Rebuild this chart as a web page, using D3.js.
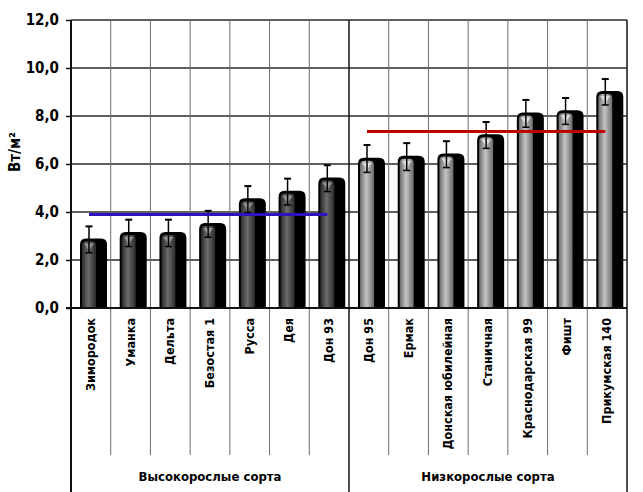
<!DOCTYPE html>
<html><head><meta charset="utf-8">
<script src="https://cdn.jsdelivr.net/npm/d3@7/dist/d3.min.js"></script>
<style>
html,body{margin:0;padding:0;background:#fff;}
text{font-family:"Liberation Sans Narrow","DejaVu Sans Condensed","Liberation Sans",Arial,sans-serif;font-weight:bold;fill:#000;}
</style></head>
<body>
<svg id="chart" width="643" height="492"></svg>
<script>
const categories = ["Зимородок","Уманка","Дельта","Безостая 1","Русса","Дея","Дон 93",
  "Дон 95","Ермак","Донская юбилейная","Станичная","Краснодарская 99","Фишт","Прикумская 140"];
const values = [2.85, 3.12, 3.12, 3.5, 4.53, 4.84, 5.4, 6.22, 6.3, 6.4, 7.2, 8.1, 8.2, 9.0];
const errors = [0.55, 0.56, 0.56, 0.55, 0.55, 0.55, 0.55, 0.57, 0.57, 0.55, 0.55, 0.57, 0.55, 0.54];
const groupNames = ["Высокорослые сорта","Низкорослые сорта"];
const groupSizes = [7, 7];
const groupMeans = [3.9, 7.35];
const groupLineColors = ["#2a14c0","#c00000"];
const yTicks = [0, 2, 4, 6, 8, 10, 12];
const yLabel = "Вт/м²";

const svg = d3.select("#chart");
const L = 71, R = 627, T = 20, B = 308;
const y = d3.scaleLinear().domain([0, 12]).range([B, T]);
const x = d3.scaleBand().domain(categories).range([L, R]).padding(0);
const bw = x.bandwidth();

const defs = svg.append("defs");
function grad(id, edge, mid){
  const g = defs.append("linearGradient").attr("id", id).attr("x1","0").attr("x2","1").attr("y1","0").attr("y2","0");
  g.append("stop").attr("offset","0%").attr("stop-color",edge);
  g.append("stop").attr("offset","45%").attr("stop-color",mid);
  g.append("stop").attr("offset","100%").attr("stop-color",edge);
}
grad("gDark","#2a2a2a","#6c6c6c");
grad("gLight","#6a6a6a","#c4c4c4");

// horizontal gridlines
svg.append("g").selectAll("line").data(yTicks).join("line")
  .attr("x1", L).attr("x2", R).attr("y1", d => y(d)).attr("y2", d => y(d))
  .attr("stroke", "#2a2a2a").attr("stroke-width", 1.5);

// vertical category lines (plot + label area)
const groupBounds = [];
let acc = 0; groupSizes.forEach(s => { acc += s; groupBounds.push(acc); });
svg.append("g").selectAll("line").data(d3.range(1, categories.length)).join("line")
  .attr("x1", i => L + i * bw).attr("x2", i => L + i * bw)
  .attr("y1", T).attr("y2", i => groupBounds.includes(i) ? 492 : 455)
  .attr("stroke", i => groupBounds.includes(i) ? "#222" : "#6a6a6a")
  .attr("stroke-width", i => groupBounds.includes(i) ? 1.6 : 1);
// left and right borders
[L, R].forEach((px, k) => {
  svg.append("line").attr("x1", px).attr("x2", px).attr("y1", T).attr("y2", 492)
    .attr("stroke", k === 0 ? "#111" : "#222").attr("stroke-width", k === 0 ? 2 : 1.6);
});

// y axis
const yAxis = d3.axisLeft(y).tickValues(yTicks).tickSize(5).tickPadding(7)
  .tickFormat(d => d3.format(".1f")(d).replace(".", ","));
const ya = svg.append("g").attr("transform", `translate(${L},0)`).call(yAxis);
ya.select(".domain").remove();
ya.selectAll(".tick line").attr("stroke", "#111").attr("stroke-width", 1.5);
ya.selectAll(".tick text").style("font-size", "15px").attr("fill", "#000");

svg.append("text").attr("transform", "translate(20,152) rotate(-90)")
  .attr("text-anchor", "middle").style("font-size", "15px").text(yLabel);

// bars
const barOff = 9, bodyW = 18, shadowW = 27;
const bars = svg.append("g").selectAll("g").data(categories).join("g");
function roundTop(x0, w, yt, yb, r){
  return `M${x0},${yb} L${x0},${yt + r} Q${x0},${yt} ${x0 + r},${yt} L${x0 + w - r},${yt} Q${x0 + w},${yt} ${x0 + w},${yt + r} L${x0 + w},${yb} Z`;
}
bars.append("path").attr("d", (d, i) => roundTop(x(d) + barOff, shadowW, y(values[i]) - 1, B, 6)).attr("fill", "#000");
bars.append("path").attr("d", (d, i) => roundTop(x(d) + barOff + 2, bodyW - 4, y(values[i]) + 2, B - 1, 4))
  .attr("fill", (d, i) => i < groupSizes[0] ? "url(#gDark)" : "url(#gLight)");
// highlight triangle
bars.append("path").attr("d", (d, i) => {
  const cx = x(d) + barOff + bodyW / 2, yt = y(values[i]) + 4;
  return `M${cx - 5},${yt} L${cx + 5},${yt} L${cx},${yt + 7} Z`;
}).attr("fill", (d, i) => i < groupSizes[0] ? "#9a9a9a" : "#e4e4e4").attr("opacity", 0.9);

// error bars
const eb = svg.append("g").attr("stroke", "#000").attr("stroke-width", 1.5);
categories.forEach((d, i) => {
  const cx = x(d) + barOff + bodyW / 2;
  const y1 = y(values[i] + errors[i]), y2 = y(values[i] - errors[i]);
  eb.append("line").attr("x1", cx).attr("x2", cx).attr("y1", y1).attr("y2", y2);
  eb.append("line").attr("x1", cx - 3.5).attr("x2", cx + 3.5).attr("y1", y1).attr("y2", y1).attr("stroke-width", 2);
  eb.append("line").attr("x1", cx - 3.5).attr("x2", cx + 3.5).attr("y1", y2).attr("y2", y2);
});

// group mean lines
let start = 0;
groupSizes.forEach((s, g) => {
  const c0 = x(categories[start]) + barOff + bodyW / 2;
  const c1 = x(categories[start + s - 1]) + barOff + bodyW / 2;
  svg.append("line").attr("x1", c0).attr("x2", c1).attr("y1", y(groupMeans[g])).attr("y2", y(groupMeans[g]))
    .attr("stroke", groupLineColors[g]).attr("stroke-width", 3);
  svg.append("text").attr("x", (x(categories[start]) + x(categories[start + s - 1]) + bw) / 2).attr("y", 481)
    .attr("text-anchor", "middle").style("font-size", "13px").text(groupNames[g]);
  start += s;
});

// category labels
svg.append("g").selectAll("text").data(categories).join("text")
  .attr("transform", d => `translate(${x(d) + bw / 2 + 4},318) rotate(-90)`)
  .attr("text-anchor", "end").style("font-size", "12.5px").text(d => d);

// bottom axis line
svg.append("line").attr("x1", L - 5).attr("x2", R).attr("y1", B).attr("y2", B).attr("stroke", "#111").attr("stroke-width", 2);
</script>
</body></html>
